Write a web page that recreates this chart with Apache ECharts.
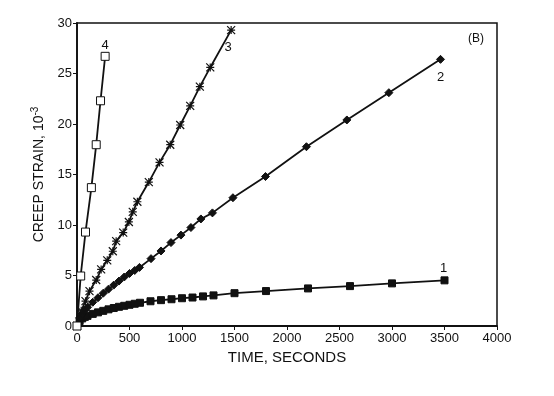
<!DOCTYPE html>
<html>
<head>
<meta charset="utf-8">
<script src="https://cdn.jsdelivr.net/npm/echarts@6/dist/echarts.min.js"></script>
<style>html,body{margin:0;padding:0;background:#fff}#c{width:554px;height:396px}</style>
</head>
<body>
<div id="c"></div>
<script>
// Curve 1 (filled squares)
const t1 = [0,25,50,75,100,150,200,250,300,350,400,450,500,550,600,700,800,900,1000,1100,1200,1300,1500,1800,2200,2600,3000,3500];
const s1 = [0,0.5,0.75,0.9,1.0,1.2,1.35,1.5,1.65,1.78,1.9,2.0,2.1,2.2,2.3,2.45,2.56,2.65,2.75,2.82,2.93,3.03,3.25,3.46,3.72,3.95,4.22,4.52];
// Curve 2 (filled diamonds)
const t2 = [0,25,50,75,100,150,200,250,300,350,400,450,500,550,595,705,800,895,990,1085,1180,1290,1485,1795,2185,2570,2970,3462];
const s2 = [0,0.8,1.2,1.55,1.85,2.35,2.8,3.25,3.65,4.05,4.45,4.85,5.2,5.5,5.8,6.67,7.43,8.26,9.0,9.75,10.6,11.2,12.7,14.8,17.75,20.4,23.1,26.4];
// Curve 3 (asterisks)
const t3 = [0,40,81,119,183,230,288,341,373,440,494,531,575,684,786,888,983,1078,1170,1269,1468];
const s3 = [0,1.5,2.46,3.45,4.55,5.6,6.5,7.4,8.4,9.25,10.3,11.3,12.3,14.25,16.2,17.95,19.9,21.8,23.7,25.6,29.3];
// Curve 4 (open squares)
const t4 = [0,35,81,137,183,224,268];
const s4 = [0,4.95,9.3,13.7,17.95,22.3,26.7];

const curveNames = ['1','2','3','4'];
const xTicks = [0,500,1000,1500,2000,2500,3000,3500,4000];
const yTicks = [0,5,10,15,20,25,30];
const FONT = 'Liberation Sans, Arial, sans-serif';

function build(t, s, name, labelPos, labelOffset) {
  return t.map((x, i) => {
    const d = { value: [x, s[i]] };
    if (i === t.length - 1) {
      d.label = { show: true, formatter: name, position: labelPos, offset: labelOffset,
        color: '#111', fontSize: 13, fontFamily: FONT };
    }
    return d;
  });
}

const asterisk = 'path://M0,0L10,10M10,0L0,10M5,0L5,10M0,5L10,5';
const lineStyle = { color: '#111', width: 1.8 };

const chart = echarts.init(document.getElementById('c'), null, { renderer: 'canvas' });
chart.setOption({
  animation: false,
  backgroundColor: '#fff',
  grid: { left: 77, right: 57, top: 23, bottom: 70, show: true, borderColor: '#111', borderWidth: 1.5, backgroundColor: 'transparent' },
  xAxis: {
    type: 'value', min: xTicks[0], max: xTicks[xTicks.length - 1], interval: 500,
    name: 'TIME, SECONDS', nameLocation: 'middle', nameGap: 24,
    nameTextStyle: { color: '#111', fontSize: 15, fontFamily: FONT },
    axisLine: { show: true, lineStyle: { color: '#111', width: 1.8 } },
    axisTick: { show: true, inside: false, length: 4, lineStyle: { color: '#111' } },
    axisLabel: { color: '#111', fontSize: 13, margin: 6, fontFamily: FONT, formatter: v => String(v) },
    splitLine: { show: false }
  },
  yAxis: {
    type: 'value', min: yTicks[0], max: yTicks[yTicks.length - 1], interval: 5,
    name: 'CREEP STRAIN, 10{sup|-3}', nameLocation: 'middle', nameGap: 22,
    nameTextStyle: { color: '#111', fontSize: 14, fontFamily: FONT,
      rich: { sup: { fontSize: 10, verticalAlign: 'top', color: '#111', padding: [0,0,8,0], fontFamily: FONT } } },
    axisLine: { show: true, lineStyle: { color: '#111', width: 1.8 } },
    axisTick: { show: true, inside: false, length: 4, lineStyle: { color: '#111' } },
    axisLabel: { color: '#111', fontSize: 13, margin: 5, fontFamily: FONT, formatter: v => String(v) },
    splitLine: { show: false }
  },
  graphic: [{ type: 'text', left: 468, top: 33, style: { text: '(B)', fill: '#111', fontSize: 12, fontFamily: FONT } }],
  series: [
    { type: 'line', name: curveNames[0], data: build(t1, s1, curveNames[0], 'top', [-1, 4]),
      symbol: 'rect', symbolSize: 7, showAllSymbol: true, lineStyle,
      itemStyle: { color: '#111', borderColor: '#111' } },
    { type: 'line', name: curveNames[1], data: build(t2, s2, curveNames[1], 'bottom', [0, 2]),
      symbol: 'diamond', symbolSize: 8, showAllSymbol: true, lineStyle,
      itemStyle: { color: '#111', borderColor: '#111' } },
    { type: 'line', name: curveNames[2], data: build(t3, s3, curveNames[2], 'bottom', [-3, -1]),
      symbol: asterisk, symbolSize: 8, showAllSymbol: true, lineStyle,
      itemStyle: { color: 'none', borderColor: '#111', borderWidth: 1.2 } },
    { type: 'line', name: curveNames[3], data: build(t4, s4, curveNames[3], 'top', [0, 5]),
      symbol: 'rect', symbolSize: 8, showAllSymbol: true, lineStyle,
      itemStyle: { color: '#fff', borderColor: '#111', borderWidth: 1 } }
  ]
});
</script>
</body>
</html>
